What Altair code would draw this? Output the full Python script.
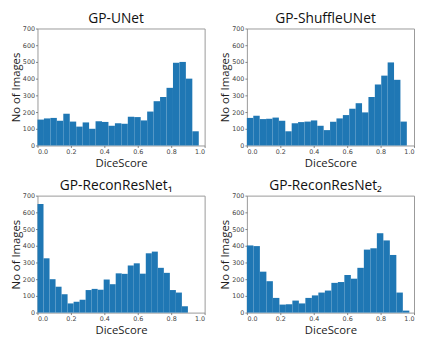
import altair as alt
import pandas as pd

titles = ["GP-UNet", "GP-ShuffleUNet", "GP-ReconResNet\u2081", "GP-ReconResNet\u2082"]

unet = [155, 162, 165, 148, 190, 143, 113, 138, 100, 145, 141, 118, 133,
        130, 172, 170, 150, 203, 265, 290, 345, 495, 500, 400, 85]
shuffle = [165, 178, 158, 160, 167, 148, 85, 133, 140, 143, 150, 118, 92,
           142, 162, 182, 220, 253, 198, 290, 365, 418, 497, 393, 143]
recon1 = [650, 325, 200, 155, 110, 55, 65, 77, 135, 142, 137, 198, 170,
          235, 232, 282, 295, 233, 355, 365, 268, 238, 135, 120, 38]
recon2 = [402, 398, 245, 188, 88, 48, 50, 72, 55, 88, 103, 120, 132,
          178, 183, 225, 203, 268, 377, 385, 475, 432, 345, 120, 12]

# upper edge of the last histogram bin for each model
upper_edge = [0.965, 0.957, 0.900, 0.972]

x_ticks = [0.0, 0.2, 0.4, 0.6, 0.8, 1.0]
y_ticks = [0, 100, 200, 300, 400, 500, 600, 700]

PW, PH = 170, 119


def panel(title, counts, hi):
    n = len(counts)
    w = hi / n
    df = pd.DataFrame({
        "start": [i * w for i in range(n)],
        "end": [(i + 1) * w for i in range(n)],
        "count": counts,
        "zero": [0] * n,
    })
    return alt.Chart(df).mark_bar(color="#1f77b4").encode(
        x=alt.X("start:Q", scale=alt.Scale(domain=[0, 1], nice=False),
                axis=alt.Axis(values=x_ticks, format=".1f", title="DiceScore",
                              titlePadding=3)),
        x2="end:Q",
        y=alt.Y("count:Q", scale=alt.Scale(domain=[0, 700], nice=False),
                axis=alt.Axis(values=y_ticks, title="No of Images")),
        y2="zero:Q",
    ).properties(
        width=PW, height=PH,
        title=alt.TitleParams(title, fontSize=14, font="Open Sans",
                              fontWeight="normal", offset=0, anchor="middle",
                              dx=-5, color="#111"),
    )


p = [panel(t, c, h) for t, c, h in zip(titles, [unet, shuffle, recon1, recon2], upper_edge)]

chart = alt.vconcat(
    alt.hconcat(p[0], p[1], spacing=14),
    alt.hconcat(p[2], p[3], spacing=14),
    spacing=8,
).configure_view(
    stroke="#999", strokeWidth=1
).configure_axis(
    grid=False, domain=False,
    tickSize=2, tickColor="#666", tickWidth=0.8,
    labelFont="DejaVu Sans", labelFontSize=6.5, labelColor="#444", labelPadding=1,
    titleFont="Open Sans", titleFontSize=11.5, titleFontWeight="normal",
    titleColor="#222", titlePadding=1,
).properties(padding={"left": 2, "top": 0, "right": 0, "bottom": 0})

chart.save("out.html", embed_options={"renderer": "svg", "actions": False})
